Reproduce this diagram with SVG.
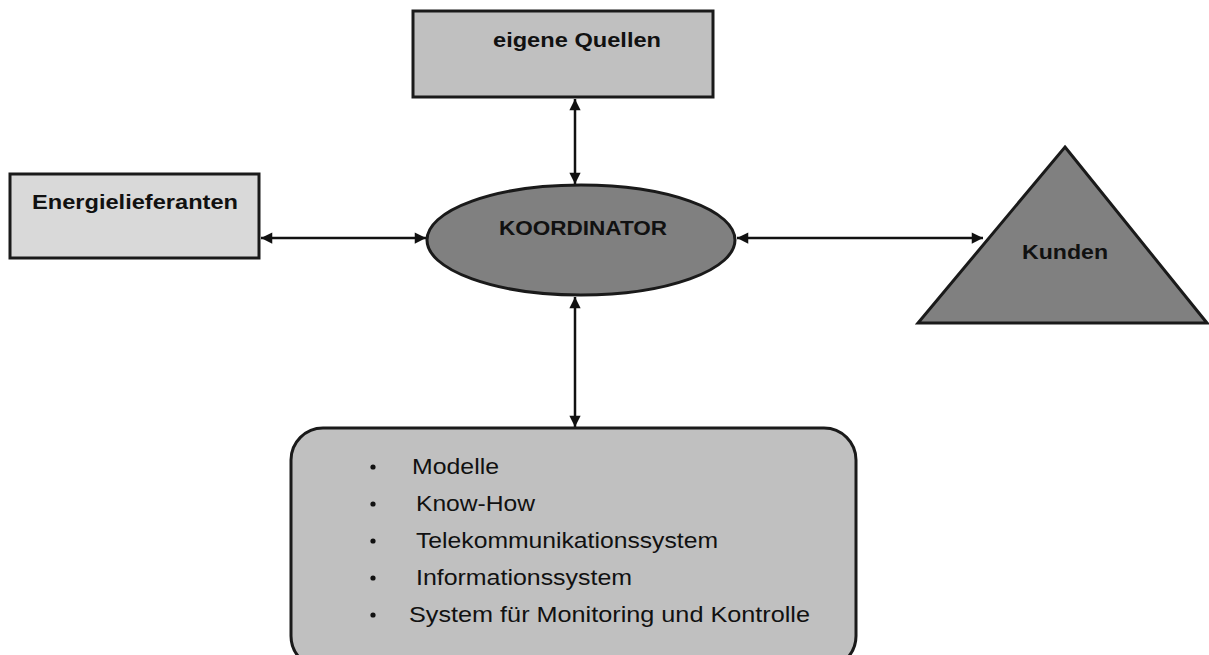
<svg xmlns="http://www.w3.org/2000/svg" width="1209" height="655" viewBox="0 0 1209 655">
<defs>
<style>
.box{stroke:#1a1a1a;stroke-width:3}
.lbl{font-family:"Liberation Sans",Arial,sans-serif;font-weight:bold;font-size:20px;fill:#111;text-anchor:middle}
.itm{font-family:"Liberation Sans",Arial,sans-serif;font-size:22px;fill:#111}
.con{stroke:#111;stroke-width:2.5;fill:none;marker-start:url(#ah);marker-end:url(#ah)}
</style>
<marker id="ah" viewBox="0 0 10 10" refX="10" refY="5" markerWidth="5" markerHeight="4.5" markerUnits="strokeWidth" orient="auto-start-reverse">
<path d="M0,0 L10,5 L0,10 z" fill="#111"/>
</marker>
</defs>
<rect width="1209" height="655" fill="#fff"/>
<g id="connectors">
<line class="con" x1="575" y1="99" x2="575" y2="184"/>
<line class="con" x1="261" y1="238" x2="426" y2="238"/>
<line class="con" x1="737" y1="238" x2="983" y2="238"/>
<line class="con" x1="575" y1="297" x2="575" y2="427"/>
</g>
<g id="eigene-quellen">
<rect class="box" x="413" y="11" width="300" height="86" fill="#c0c0c0"/>
<text class="lbl" x="577" y="47" textLength="168" lengthAdjust="spacingAndGlyphs">eigene Quellen</text>
</g>
<g id="energielieferanten">
<rect class="box" x="10" y="174" width="249" height="84" fill="#d9d9d9"/>
<text class="lbl" x="135" y="209" textLength="206" lengthAdjust="spacingAndGlyphs">Energielieferanten</text>
</g>
<g id="koordinator">
<ellipse class="box" cx="581" cy="240" rx="154" ry="55" fill="#808080"/>
<text class="lbl" x="583" y="235" textLength="168" lengthAdjust="spacingAndGlyphs">KOORDINATOR</text>
</g>
<g id="kunden">
<polygon class="box" points="1065,147 1207,323 918,323" fill="#808080"/>
<text class="lbl" x="1065" y="259" textLength="86" lengthAdjust="spacingAndGlyphs">Kunden</text>
</g>
<g id="ressourcen">
<rect class="box" x="291" y="428" width="565" height="240" rx="32" ry="32" fill="#c0c0c0"/>
<g class="itm">
<circle cx="373" cy="467" r="2.6" fill="#111"/>
<circle cx="373" cy="504" r="2.6" fill="#111"/>
<circle cx="373" cy="541" r="2.6" fill="#111"/>
<circle cx="373" cy="578" r="2.6" fill="#111"/>
<circle cx="373" cy="615" r="2.6" fill="#111"/>
<text x="412" y="474" textLength="87" lengthAdjust="spacingAndGlyphs">Modelle</text>
<text x="416" y="511" textLength="119" lengthAdjust="spacingAndGlyphs">Know-How</text>
<text x="416" y="548" textLength="302" lengthAdjust="spacingAndGlyphs">Telekommunikationssystem</text>
<text x="416" y="585" textLength="216" lengthAdjust="spacingAndGlyphs">Informationssystem</text>
<text x="409" y="622" textLength="401" lengthAdjust="spacingAndGlyphs">System für Monitoring und Kontrolle</text>
</g>
</g>
</svg>
